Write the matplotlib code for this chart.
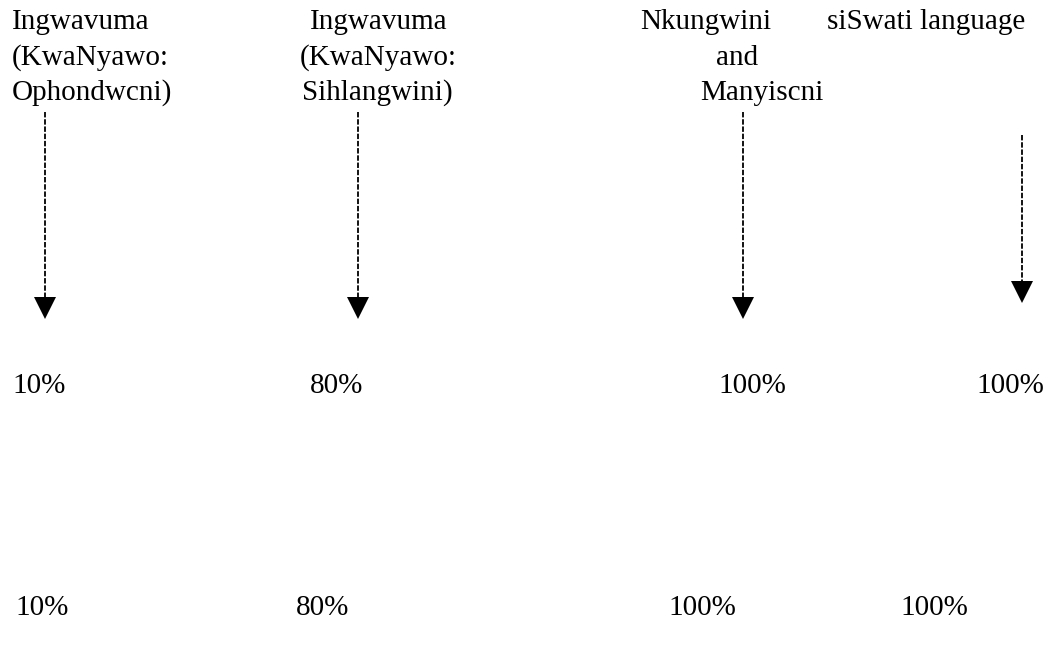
import matplotlib
matplotlib.use("Agg")
import matplotlib.pyplot as plt

# ---- data ----
areas = [
    ["Ingwavuma", "(KwaNyawo:", "Ophondwcni)"],
    ["Ingwavuma", "(KwaNyawo:", "Sihlangwini)"],
    ["Nkungwini", "and", "Manyiscni"],
    ["siSwati language"],
]
row1_values = [10, 80, 100, 100]
row2_values = [10, 80, 100, 100]

# ---- layout (pixel coordinates) ----
W, H = 1064, 648
header_x = [[12, 12, 12], [310, 300, 302], [640, 716, 700], [827]]
header_y = [22, 58, 93]
arrow_x = [45, 358, 743, 1022]
arrow_top = [112, 112, 112, 135]
arrow_tip = [318, 318, 318, 302]
row1_x = [12, 310, 718, 976]
row1_y = 386
row2_x = [15, 296, 668, 900]
row2_y = 608

fig = plt.figure(figsize=(W / 100, H / 100), dpi=100)
ax = fig.add_axes([0, 0, 1, 1])
ax.set_xlim(0, W)
ax.set_ylim(H, 0)
ax.axis("off")

font = dict(family="Liberation Serif", fontsize=21, color="black")

for lines, xs in zip(areas, header_x):
    for line, x, y in zip(lines, xs, header_y):
        ax.text(x, y, line, ha="left", va="center", **font)

for x, y0, y1 in zip(arrow_x, arrow_top, arrow_tip):
    ax.plot([x, x], [y0, y1 - 14], color="black", lw=1.3,
            linestyle=(0, (3, 1)), solid_capstyle="butt")
    ax.plot([x], [y1 - 10], marker="v", markersize=16, color="black",
            markeredgewidth=0)

for v, x in zip(row1_values, row1_x):
    ax.text(x, row1_y, f"{v}%", ha="left", va="center", **font)
for v, x in zip(row2_values, row2_x):
    ax.text(x, row2_y, f"{v}%", ha="left", va="center", **font)

fig.savefig("out.png", dpi=100, facecolor="white")
